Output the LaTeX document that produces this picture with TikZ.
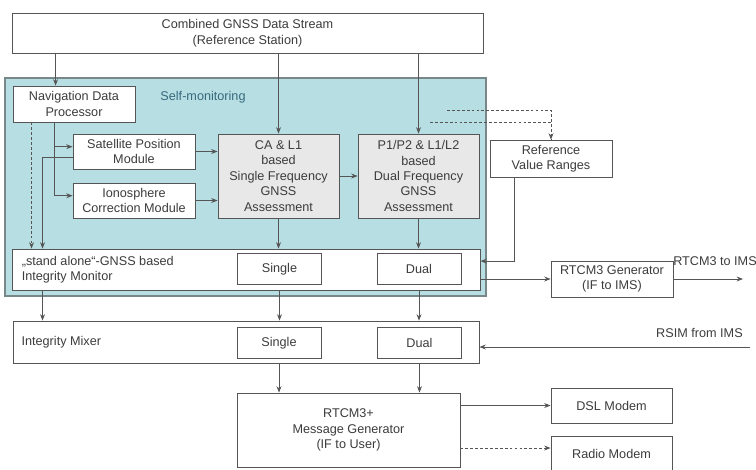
\documentclass[tikz,border=0pt]{standalone}
\usepackage{fontspec}
\setmainfont{Liberation Sans}
\usepackage{tikz}
\usetikzlibrary{shapes,arrows.meta,positioning,calc}

\definecolor{panelfill}{RGB}{183,222,226}
\definecolor{panelline}{RGB}{120,135,138}
\definecolor{boxline}{RGB}{85,85,85}
\definecolor{assessfill}{RGB}{232,232,232}
\definecolor{textgray}{RGB}{60,60,60}
\definecolor{selfmoncol}{RGB}{55,105,125}

\begin{document}
\begin{tikzpicture}[
    x=0.025cm, y=-0.025cm,
    every node/.style={font=\fontsize{9}{11}\selectfont, text=textgray},
    block/.style={rectangle, draw=boxline, fill=white, line width=0.6pt, align=center, inner sep=2pt, minimum width=3.05cm, minimum height=0.9cm},
    assessment/.style={block, fill=assessfill, minimum width=3.025cm, minimum height=2.1cm},
    bar/.style={block, minimum height=1.05cm},
    sub/.style={block, minimum width=2.1cm, minimum height=0.78cm},
    panelbox/.style={rectangle, draw=panelline, fill=panelfill, line width=1.2pt, minimum width=12.025cm, minimum height=5.45cm},
    lbl/.style={inner sep=0pt, align=left},
    arrow/.style={-{Stealth[length=4.5pt, width=3.5pt]}, draw=boxline, line width=0.6pt},
    dashline/.style={draw=boxline, line width=0.6pt, dash pattern=on 2pt off 1.5pt},
    dasharrow/.style={arrow, dash pattern=on 2pt off 1.5pt}
]
\useasboundingbox (0,0) rectangle (756,469);

\node (panel) [panelbox] at (245.5,187) {};
\node (selfmon) [lbl, text=selfmoncol] at (203,97) {Self-monitoring};
\node (stream) [block, minimum width=11.775cm, minimum height=1cm] at (247.5,33) {Combined GNSS Data Stream\\(Reference Station)};
\node (nav) [block] at (74,104) {Navigation Data\\Processor};
\node (sat) [block, minimum height=0.875cm] at (134,151.5) {Satellite Position\\Module};
\node (iono) [block, minimum height=0.875cm] at (134,200.5) {Ionosphere\\Correction Module};
\node (ca) [assessment] at (278.5,176) {CA \& L1\\based\\Single Frequency\\GNSS\\Assessment};
\node (p12) [assessment] at (418.5,176) {P1/P2 \& L1/L2\\based\\Dual Frequency\\GNSS\\Assessment};
\node (rvr) [block, minimum height=0.925cm] at (551,158.5) {Reference\\Value Ranges};

\node (monitor) [bar, minimum width=11.7cm, minimum height=1.025cm] at (246,269.5) {};
\node (montxt) [lbl, right=0.25cm of monitor.west] {„stand alone“-GNSS based\\Integrity Monitor};
\node (monsingle) [sub] at (279.5,269) {Single};
\node (mondual) [sub] at (419,269) {Dual};
\node (gen) [block] at (612,279) {RTCM3 Generator\\(IF to IMS)};
\node (imslbl) [lbl, anchor=west] at (673,261) {RTCM3 to IMS};

\node (mixer) [bar, minimum width=11.65cm] at (246,342) {};
\node (mixtxt) [lbl, right=0.22cm of mixer.west] {Integrity Mixer};
\node (mixsingle) [sub] at (279,343) {Single};
\node (mixdual) [sub] at (419.5,343) {Dual};
\node (rsimlbl) [lbl, anchor=east] at (743,333) {RSIM from IMS};

\node (msg) [block, minimum width=5.575cm, minimum height=1.85cm] at (348.5,430) {RTCM3+\\Message Generator\\(IF to User)};
\node (dsl) [block, minimum width=3.025cm, minimum height=0.875cm] at (611.5,405.5) {DSL Modem};
\node (radio) [block, minimum width=3.025cm, minimum height=0.875cm] at (611.5,453.5) {Radio Modem};

% Connector ends
\coordinate (navin) at ($(nav.north west)+(43,0)$);
\coordinate (navout) at ($(nav.south west)+(42,0)$);
\coordinate (mon1) at ($(monitor.north west)+(20,0)$);
\coordinate (mon2) at ($(monitor.north west)+(31,0)$);
\coordinate (dash1) at (447,110);
\coordinate (dash2) at (430,122);
\coordinate (rvrout) at ($(rvr.south west)+(25,0)$);
\coordinate (imsout) at (743,279);
\coordinate (imsin) at (750,347);

% Arrows
\draw [arrow] (stream.south -| navin) -- (navin);
\draw [arrow] (stream.south -| ca.north) -- (ca.north);
\draw [arrow] (stream.south -| p12.north) -- (p12.north);
\draw [arrow] (navout) |- ([yshift=0.12cm]sat.west);
\draw [arrow] (navout) |- ([yshift=0.12cm]iono.west);
\draw [dasharrow] (nav.south -| mon1) -- (mon1);
\draw [arrow] ([yshift=-0.16cm]sat.west) -| (mon2);
\draw [arrow] (sat.east) -- (sat.east -| ca.west);
\draw [arrow] (iono.east) -- (iono.east -| ca.west);
\draw [arrow] (ca.east) -- (p12.west);
\draw [arrow] (ca.south) -- (ca.south |- monitor.north);
\draw [arrow] (p12.south) -- (p12.south |- monitor.north);
\draw [dashline] (dash1) -| (rvr.north);
\draw [dasharrow] (dash2) -| (rvr.north);
\draw [arrow] (rvrout) |- ([yshift=0.21cm]monitor.east);
\draw [arrow] (monitor.east |- gen.west) -- (gen.west);
\draw [arrow] (gen.east) -- (imsout);

\draw [arrow] (monitor.south -| mon2) -- (mixer.north -| mon2);
\draw [arrow] (monsingle.south |- monitor.south) -- (monsingle.south |- mixer.north);
\draw [arrow] (mondual.south |- monitor.south) -- (mondual.south |- mixer.north);
\draw [arrow] (imsin) -- (imsin -| mixer.east);

\draw [arrow] (mixsingle.south |- mixer.south) -- (mixsingle.south |- msg.north);
\draw [arrow] (mixdual.south |- mixer.south) -- (mixdual.south |- msg.north);
\draw [arrow] (msg.east |- dsl.west) -- (dsl.west);
\draw [dasharrow] ([yshift=-0.45cm]msg.east) -- ([yshift=-0.45cm]msg.east -| radio.west);

\end{tikzpicture}
\end{document}
